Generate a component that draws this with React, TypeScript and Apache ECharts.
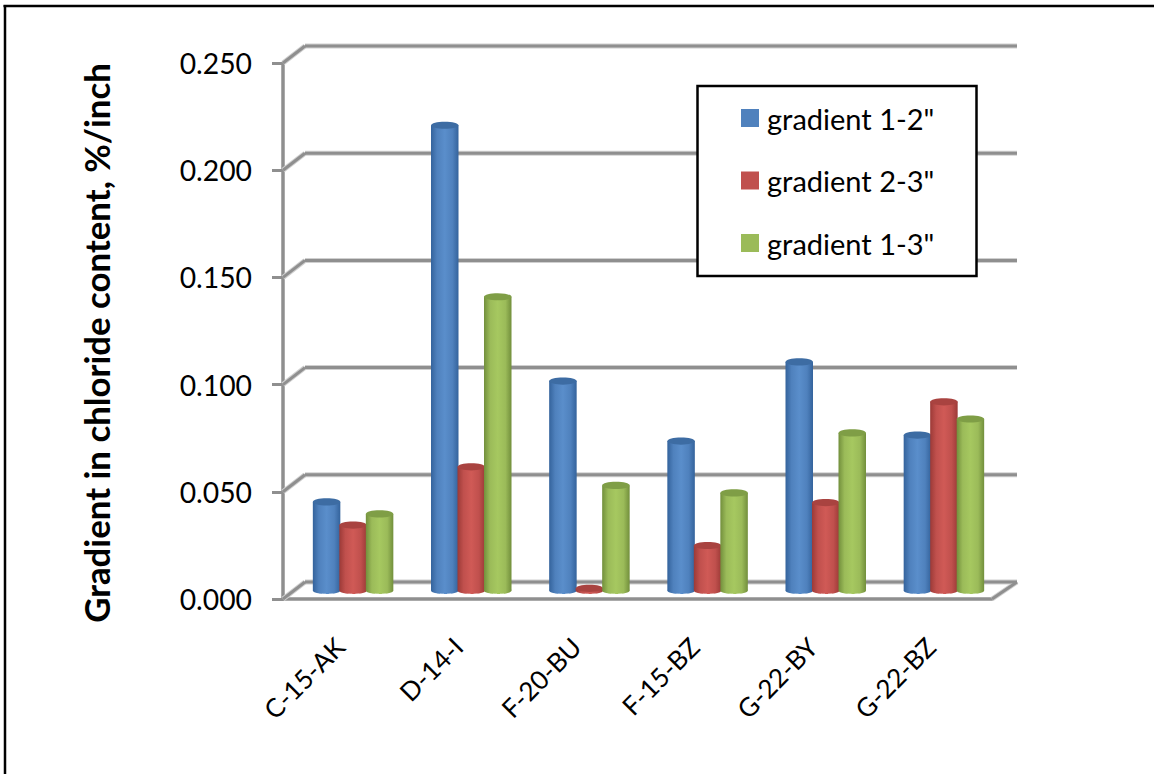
import React, { useEffect, useRef } from "react";
import * as echarts from "echarts";

const categories = ["C-15-AK", "D-14-I", "F-20-BU", "F-15-BZ", "G-22-BY", "G-22-BZ"];
const gradient12 = [0.0413, 0.217, 0.0977, 0.0697, 0.1066, 0.0725];
const gradient23 = [0.0305, 0.0577, 0.001, 0.021, 0.041, 0.088];
const gradient13 = [0.0357, 0.137, 0.049, 0.0455, 0.0735, 0.08];
const yTicks = [0, 0.05, 0.1, 0.15, 0.2, 0.25];
const seriesNames = ['gradient 1-2"', 'gradient 2-3"', 'gradient 1-3"'];
const seriesValues = [gradient12, gradient23, gradient13];
const palette = [
  { base: "#4f81bd", light: "#5a8ecb", dark: "#34639c", top: "#3d6ca3" },
  { base: "#c0504d", light: "#d05a56", dark: "#9c3a37", top: "#a94340" },
  { base: "#9bbb59", light: "#a6c860", dark: "#728f3c", top: "#7f9e46" },
];
const FONT = "Lato";

const wallItem = (params: any, api: any) => {
  const v = api.value(0);
  const size = api.size([1, 0])[0];
  const p = api.coord([0, v]);
  const left = p[0] - size / 2;
  const right = left + size * categories.length;
  const y = p[1];
  const stroke = (shape: any, w: number, c: string) => ({
    type: "line",
    shape,
    style: { stroke: c, lineWidth: w, fill: "none" },
  });
  const segs: any[] = [
    { x1: left, y1: y, x2: left + 22, y2: y - 17 },
    { x1: left + 22, y1: y - 17, x2: right + 25, y2: y - 17 },
  ];
  if (v === 0) segs.push({ x1: right, y1: y, x2: right + 25, y2: y - 17 });
  const children: any[] = [];
  segs.forEach((s) => children.push(stroke(s, 5, "#d0d0d0")));
  segs.forEach((s) => children.push(stroke(s, 3, "#8f8f8f")));
  return { type: "group", children };
};

const cylinderItem = (seriesIdx: number) => (params: any, api: any) => {
  const cat = api.value(0);
  const val = api.value(1);
  const top = api.coord([cat, val]);
  const base = api.coord([cat, 0]);
  const w = 27.5;
  const ry = 3.6;
  const cx = top[0] + 11 + (seriesIdx - 1) * 26.5;
  const topY = top[1] - 8.5;
  const baseY = base[1] - 8.5;
  const c = palette[seriesIdx];
  const grad = new echarts.graphic.LinearGradient(0, 0, 1, 0, [
    { offset: 0, color: c.dark },
    { offset: 0.22, color: c.base },
    { offset: 0.5, color: c.light },
    { offset: 0.78, color: c.base },
    { offset: 1, color: c.dark },
  ]);
  return {
    type: "group",
    children: [
      {
        type: "ellipse",
        shape: { cx, cy: baseY, rx: w / 2, ry },
        style: { fill: grad },
      },
      {
        type: "rect",
        shape: { x: cx - w / 2, y: topY, width: w, height: Math.max(baseY - topY, 0) },
        style: { fill: grad },
      },
      {
        type: "ellipse",
        shape: { cx, cy: topY, rx: w / 2, ry },
        style: { fill: c.top },
      },
      {
        type: "line",
        shape: { x1: cx - w / 2 + 2, y1: baseY + ry, x2: cx + w / 2 - 2, y2: baseY + ry },
        style: { stroke: "#ffffff", lineWidth: 1, lineDash: [4, 3], opacity: 0.75 },
      },
    ],
  };
};

export default function App() {
  const ref = useRef<HTMLDivElement>(null);
  useEffect(() => {
    const chart = echarts.init(ref.current!, null, { renderer: "svg" });
    chart.setOption({
      animation: false,
      backgroundColor: "#ffffff",
      grid: { left: 283, right: 162, top: 63, bottom: 175, containLabel: false },
      legend: {
        left: 741,
        top: 102,
        orient: "vertical",
        padding: 0,
        icon: "rect",
        itemWidth: 18,
        itemHeight: 18,
        itemGap: 30.5,
        selectedMode: false,
        z: 20,
        data: seriesNames,
        textStyle: {
          fontFamily: FONT,
          fontSize: 29,
          lineHeight: 28,
          color: "#000000",
          padding: [0, 0, 4, 3],
        },
      },
      graphic: [
        {
          type: "rect",
          z: 10,
          shape: { x: 697.5, y: 86, width: 279, height: 190 },
          style: { fill: "#ffffff", stroke: "#000000", lineWidth: 2.5 },
        },
        {
          type: "line",
          z: 30,
          shape: { x1: 3.5, y1: 6, x2: 1154, y2: 6 },
          style: { stroke: "#000000", lineWidth: 2.5 },
        },
        {
          type: "line",
          z: 30,
          shape: { x1: 5, y1: 5, x2: 5, y2: 774 },
          style: { stroke: "#000000", lineWidth: 2.5 },
        },
      ],
      xAxis: {
        type: "category",
        data: categories,
        axisLine: { lineStyle: { color: "#8f8f8f", width: 3.5 } },
        axisTick: { length: 9, lineStyle: { color: "#8f8f8f", width: 3 } },
        splitLine: { show: false },
        axisLabel: {
          rotate: 45,
          interval: 0,
          margin: 41,
          padding: [0, 3, 0, 0],
          fontFamily: FONT,
          fontSize: 26,
          color: "#000000",
        },
      },
      yAxis: {
        type: "value",
        min: 0,
        max: 0.25,
        interval: 0.05,
        name: "Gradient in chloride content, %/inch",
        nameLocation: "middle",
        nameGap: 169,
        nameTextStyle: {
          fontFamily: FONT,
          fontSize: 34.8,
          fontWeight: "bold",
          color: "#000000",
          padding: [0, 0, 0, -24],
        },
        axisLine: { show: true, lineStyle: { color: "#8f8f8f", width: 3.5 } },
        axisTick: { show: true, length: 11, lineStyle: { color: "#8f8f8f", width: 3 } },
        splitLine: { show: false },
        axisLabel: {
          margin: 31,
          fontFamily: FONT,
          fontSize: 28.3,
          color: "#000000",
          formatter: (v: number) => v.toFixed(3),
        },
      },
      series: [
        {
          type: "custom",
          name: "walls",
          silent: true,
          z: 1,
          renderItem: wallItem,
          data: yTicks.map((v) => [v]),
          encode: { y: 0 },
        },
        ...seriesNames.map((name, s) => ({
          type: "custom",
          name,
          z: 3 + s,
          itemStyle: { color: palette[s].base },
          renderItem: cylinderItem(s),
          data: seriesValues[s].map((v, i) => [i, v]),
          encode: { x: 0, y: 1 },
        })),
      ],
    });
    return () => chart.dispose();
  }, []);
  return (
    <div
      ref={ref}
      style={{ position: "fixed", left: 0, top: 0, width: 1154, height: 774 }}
    />
  );
}
